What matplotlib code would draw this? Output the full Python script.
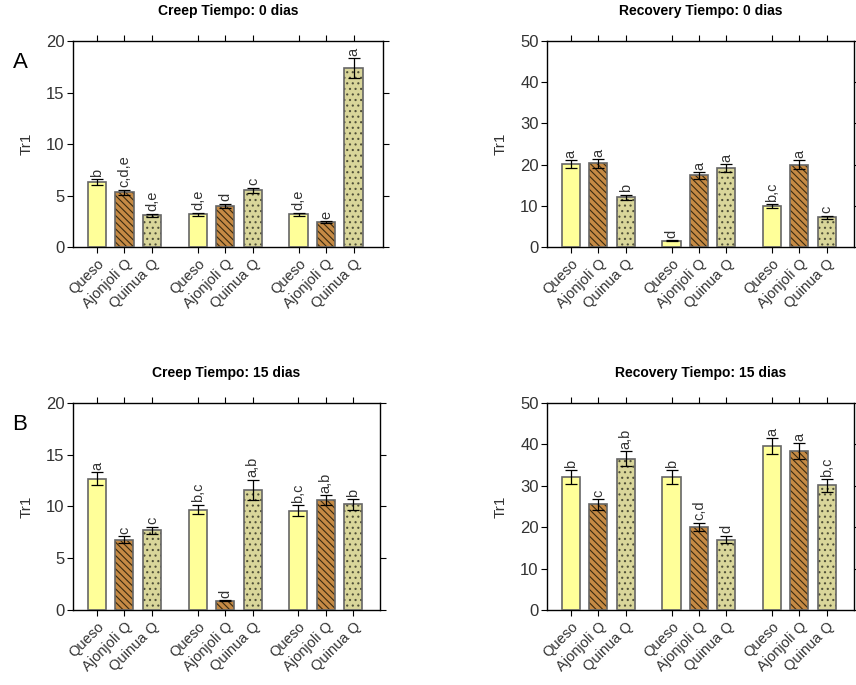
import matplotlib
matplotlib.use("Agg")
import matplotlib.pyplot as plt
import numpy as np

plt.rcParams["font.family"] = ["Liberation Sans", "DejaVu Sans"]
plt.rcParams["hatch.linewidth"] = 0.8

categories = ["Queso", "Ajonjoli Q", "Quinua Q"] * 3

creep_0_vals = [6.3, 5.3, 3.1, 3.2, 4.0, 5.5, 3.2, 2.4, 17.4]
creep_0_err = [0.3, 0.25, 0.15, 0.15, 0.2, 0.25, 0.15, 0.1, 0.95]
creep_0_lbl = ["b", "c,d,e", "d,e", "d,e", "d", "c", "d,e", "e", "a"]

recov_0_vals = [20.1, 20.3, 12.1, 1.5, 17.4, 19.2, 9.9, 20.0, 7.2]
recov_0_err = [1.0, 1.0, 0.6, 0.1, 0.8, 0.9, 0.5, 1.0, 0.4]
recov_0_lbl = ["a", "a", "b", "d", "a", "a", "b,c", "a", "c"]

creep_15_vals = [12.7, 6.8, 7.7, 9.7, 0.9, 11.6, 9.6, 10.6, 10.2]
creep_15_err = [0.6, 0.35, 0.35, 0.45, 0.05, 1.0, 0.5, 0.5, 0.5]
creep_15_lbl = ["a", "c", "c", "b,c", "d", "a,b", "b,c", "a,b", "b"]

recov_15_vals = [32.1, 25.5, 36.5, 32.1, 20.1, 17.0, 39.6, 38.4, 30.1]
recov_15_err = [1.6, 1.3, 1.8, 1.6, 1.0, 0.9, 1.9, 1.9, 1.5]
recov_15_lbl = ["b", "c", "a,b", "b", "c,d", "d", "a", "a", "b,c"]

fills = ["#FFFF99", "#C58A45", "#D9D69A"]
hatches = ["", "\\\\\\\\\\", "..."]
hatch_cols = ["#555555", "#3A2A10", "#505038"]

# bar positions: 3 bars per group, gap of ~0.67 bar spacing between groups
pos = np.array([0, 1, 2, 3.67, 4.67, 5.67, 7.33, 8.33, 9.33])


def draw_panel(ax, vals, errs, lbls, ymax, ystep, title, xmax):
    for i, (v, e) in enumerate(zip(vals, errs)):
        k = i % 3
        ax.bar(pos[i], v, width=0.66, color=fills[k], edgecolor=hatch_cols[k],
               hatch=hatches[k], linewidth=0, zorder=2)
        ax.bar(pos[i], v, width=0.66, fill=False, edgecolor="#666666",
               linewidth=1.2, zorder=3)
    ax.errorbar(pos, vals, yerr=errs, fmt="none", ecolor="black",
                elinewidth=0.9, capsize=4, capthick=0.9, zorder=4)
    for x, v, e, t in zip(pos, vals, errs, lbls):
        ax.text(x, v + e + ymax * 0.012, t, rotation=90, ha="center", va="bottom",
                fontsize=10.5, color="#333333")
    ax.set_ylim(0, ymax)
    ax.set_xlim(-0.87, xmax)
    ax.set_yticks(np.arange(0, ymax + 1, ystep))
    ax.set_xticks(pos)
    ax.set_xticklabels(categories, rotation=45, ha="right", rotation_mode="anchor",
                       fontsize=10.5, color="#333333")
    ax.tick_params(axis="y", labelsize=12, labelcolor="#333333", length=4,
                   right=True, direction="out", pad=2)
    ax.tick_params(axis="x", length=4, top=True, direction="out", pad=3)
    for s in ax.spines.values():
        s.set_linewidth(1.0)
    ax.set_ylabel("Tr1", fontsize=11, color="#333333", labelpad=9)
    ax.set_title(title, fontsize=10, fontweight="bold", pad=18.5)


fig = plt.figure(figsize=(8.56, 6.85), dpi=100)
ax1 = fig.add_axes([0.0853, 0.6394, 0.3621, 0.3007])
ax2 = fig.add_axes([0.639, 0.6394, 0.359, 0.3007])
ax3 = fig.add_axes([0.0853, 0.1095, 0.3586, 0.3022])
ax4 = fig.add_axes([0.639, 0.1095, 0.359, 0.3022])

draw_panel(ax1, creep_0_vals, creep_0_err, creep_0_lbl, 20, 5, "Creep Tiempo: 0 dias", 10.4)
draw_panel(ax2, recov_0_vals, recov_0_err, recov_0_lbl, 50, 10, "Recovery Tiempo: 0 dias", 10.33)
draw_panel(ax3, creep_15_vals, creep_15_err, creep_15_lbl, 20, 5, "Creep Tiempo: 15 dias", 10.3)
draw_panel(ax4, recov_15_vals, recov_15_err, recov_15_lbl, 50, 10, "Recovery Tiempo: 15 dias", 10.33)

fig.text(20 / 856, 1 - 62 / 685, "A", fontsize=16, ha="center", va="center")
fig.text(20 / 856, 1 - 425 / 685, "B", fontsize=16, ha="center", va="center")

fig.savefig("out.png", dpi=100)
